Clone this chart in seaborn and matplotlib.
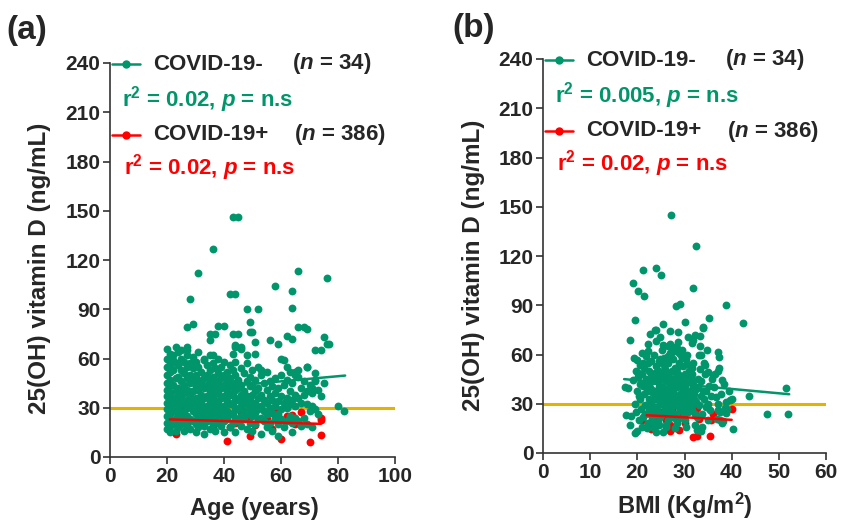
import matplotlib
matplotlib.use("Agg")
import matplotlib.pyplot as plt
import seaborn as sns
from matplotlib.lines import Line2D

# ---- panel (a): age vs 25(OH)D ----
neg_age = [
    43, 45, 36, 31, 28, 42, 44, 66, 76, 58, 64, 64, 48, 52,
    27, 29, 49, 38, 40, 35, 37, 35, 43, 45, 49, 50, 51, 56,
    59, 62, 64, 66, 68, 69, 75, 72, 74, 76, 77, 23, 27, 25,
    27, 43, 44, 46, 48, 51, 36, 60, 44, 46, 61, 69, 62, 63,
    66, 65, 72, 72, 71, 80, 82, 53, 65, 71, 69, 33, 22, 21,
    20, 20, 20, 20, 20, 20, 20, 20, 20, 20, 20, 20,
    21, 21, 21, 21, 21, 21, 21, 21, 21, 21, 21, 21,
    22, 22, 22, 22, 22, 22, 23, 23, 23, 23, 23, 23,
    24, 24, 24, 24, 24, 24, 24, 24, 24, 24,
    25, 25, 25, 25, 25, 25, 25, 25, 25,
    26, 26, 26, 26, 26, 26, 26, 26,
    27, 27, 27, 27, 27, 27, 27, 27,
    28, 28, 28, 28, 28, 28, 28,
    29, 29, 29, 29, 29, 29, 29,
    30, 30, 30, 30, 30, 30, 30, 30,
    31, 31, 31, 31, 31, 31, 31, 31,
    32, 32, 32, 32, 32, 32,
    33, 33, 33, 33, 33, 33, 33, 33,
    34, 34, 34, 34, 34, 34, 34,
    35, 35, 35, 35, 35, 35, 35, 35,
    36, 36, 36, 36, 36, 36, 36,
    37, 37, 37, 37, 37, 37, 37,
    38, 38, 38, 38, 38, 38, 38,
    39, 39, 39, 39, 39, 39, 39,
    40, 40, 40, 40, 40, 40, 40, 40,
    41, 41, 41, 41, 41, 41,
    42, 42, 42, 42, 42, 42, 42,
    43, 43, 43, 43, 43, 43,
    44, 44, 44, 44, 44, 44, 44,
    45, 45, 45, 45, 45,
    46, 46, 46, 46, 46, 46,
    47, 47, 47, 47, 47,
    48, 48, 48, 48, 48, 48,
    49, 49, 49, 49, 49,
    50, 50, 50, 50, 50, 50,
    51, 51, 51, 51, 51,
    52, 52, 52, 52, 52,
    53, 53, 53, 53, 53,
    54, 54, 54, 54,
    55, 55, 55, 55, 55,
    56, 56, 56, 56,
    57, 57, 57, 57,
    58, 58, 58, 58,
    59, 59, 59, 59, 59,
    60, 60, 60, 60,
    61, 61, 61,
    62, 62, 62, 62,
    63, 63, 63,
    64, 64, 64, 64,
    65, 65, 65,
    66, 66, 66,
    67, 67, 67,
    68, 68, 68,
    69, 69, 69,
    70, 70,
    71, 71, 71,
    72, 72,
    73, 73,
    74,
    75,
]
neg_vitd_a = [
    146, 146, 127, 112, 96, 99, 99, 113, 109, 104, 101, 91, 90, 90,
    79, 81, 82, 80, 80, 75, 75, 71, 75, 75, 76, 76, 70, 71,
    69, 74, 72, 79, 79, 78, 73, 65, 65, 69, 69, 67, 67, 65,
    65, 63, 67, 67, 62, 63, 62, 60, 68, 66, 59, 55, 55, 52,
    53, 50, 51, 46, 42, 31, 28, 53, 52, 40, 55, 60, 59, 55,
    66, 60, 55, 50, 45, 41, 37, 33, 29, 25, 21, 17,
    63, 58, 52, 47, 43, 39, 35, 31, 27, 23, 19, 15,
    62, 53, 44, 36, 28, 20, 57, 48, 40, 32, 24, 16,
    64, 56, 49, 42, 38, 34, 30, 26, 22, 18,
    60, 53, 46, 40, 36, 32, 28, 24, 20,
    58, 51, 44, 39, 33, 27, 21, 16,
    62, 55, 48, 41, 35, 30, 25, 19,
    57, 50, 45, 37, 31, 23, 17,
    61, 54, 46, 40, 34, 28, 22,
    58, 50, 43, 36, 32, 26, 20, 15,
    64, 55, 47, 41, 35, 29, 24, 18,
    52, 45, 38, 33, 27, 21,
    59, 48, 42, 36, 30, 25, 19, 14,
    56, 50, 44, 37, 31, 26, 22,
    62, 53, 46, 40, 34, 28, 23, 17,
    57, 49, 43, 38, 32, 27, 20,
    54, 47, 41, 35, 29, 24, 16,
    60, 51, 45, 39, 33, 26, 21,
    55, 48, 42, 36, 30, 25, 19,
    58, 50, 44, 37, 31, 27, 22, 15,
    52, 46, 40, 34, 28, 23,
    56, 48, 43, 38, 32, 26, 18,
    53, 45, 39, 33, 27, 21,
    58, 50, 41, 36, 30, 24, 15,
    47, 42, 35, 29, 22,
    54, 44, 38, 31, 25, 19,
    51, 40, 34, 28, 23,
    57, 46, 37, 32, 26, 17,
    49, 43, 35, 29, 21,
    53, 44, 38, 31, 25, 16,
    47, 40, 33, 27, 20,
    55, 42, 36, 29, 23,
    50, 38, 31, 24, 14,
    45, 35, 28, 22,
    52, 41, 33, 26, 18,
    46, 37, 30, 21,
    43, 35, 27, 16,
    48, 39, 31, 24,
    42, 34, 26, 20, 13,
    50, 37, 29, 23,
    44, 33, 18,
    47, 36, 30, 22,
    40, 32, 25,
    45, 35, 21, 15,
    38, 31, 24,
    49, 36, 22,
    42, 33, 19,
    46, 38, 24,
    40, 32, 20,
    44, 28,
    39, 31, 18,
    47, 29,
    41, 26,
    37,
    45,
]
pos_age = [23, 41, 49, 40, 46, 36, 42, 21, 21, 60, 70, 74, 74, 74, 64, 58,
           51, 62, 67, 40, 26, 32, 30, 44, 55, 33, 27, 48, 57, 65, 38]
pos_vitd_a = [14, 10, 13, 28.6, 26.6, 18.4, 18.4, 26.6, 23, 11, 9.2, 13.3, 24, 22.4, 25.5, 27.6,
              19.4, 24.9, 27.6, 29, 29.6, 29.2, 22, 21, 23, 25, 20, 24, 17, 20, 26]

# ---- panel (b): BMI vs 25(OH)D ----
neg_bmi = [
    27.1, 32.4, 21.3, 24.0, 25.0, 19.0, 20.2, 21.4, 31.9, 28.3, 29.0, 38.9, 19.6, 35.1,
    42.3, 25.5, 24.0, 22.7, 30.1, 26.9, 28.7, 18.4, 22.3, 24.0, 25.4, 30.8, 32.2, 31.5,
    33.3, 33.1, 37.2, 37.4, 26.9, 27.6, 27.3, 29.0, 23.7, 24.8, 31.9, 33.3, 34.0, 28.7,
    29.4, 33.6, 34.7, 33.9, 34.3, 35.0, 36.1, 37.2, 37.9, 51.5, 43.7, 40.0, 47.4, 52.0,
    40.2, 37.2, 38.6, 38.9, 37.5, 38.2, 33.6, 39.6, 20.2, 20.6, 19.9, 17.4, 18.1, 19.1,
    17.7, 18.4, 19.9, 18.6, 19.6,
    19.2, 19.8, 20.1, 20.4, 19.5, 20.8, 20.3, 21.0, 19.7, 20.6, 21.2, 20.9,
    21.5, 21.8, 22.1, 22.4, 21.6, 22.7, 22.2, 21.9, 22.9, 22.5, 23.0, 21.4, 22.6, 23.2, 22.3, 23.4, 22.8,
    23.6, 23.9, 24.2, 24.5, 23.7, 24.8, 24.1, 24.4, 23.5, 24.9, 24.6, 24.3, 25.0, 23.8, 24.7, 25.2, 25.4, 24.0, 25.3, 25.1, 24.5,
    25.6, 25.9, 26.2, 26.5, 25.7, 26.8, 26.1, 26.4, 25.5, 26.9, 26.6, 26.3, 27.0, 25.8, 26.7, 27.2, 27.4, 26.0, 27.3, 27.1, 26.5,
    27.6, 27.9, 28.2, 28.5, 27.7, 28.8, 28.1, 28.4, 27.5, 28.9, 28.6, 28.3, 29.0, 27.8, 28.7, 29.2, 29.4, 28.0, 29.3, 29.1, 28.5,
    29.6, 29.9, 30.2, 30.5, 29.7, 30.8, 30.1, 30.4, 29.5, 30.9, 30.6, 30.3, 31.0, 29.8, 30.7, 31.2,
    31.5, 31.8, 32.1, 32.4, 31.6, 32.7, 32.2, 31.9, 32.9, 32.5, 33.0, 31.4, 32.6, 33.2,
    33.5, 33.9, 34.2, 34.6, 33.7, 34.9, 34.4, 35.2, 35.6, 35.0, 33.8, 35.5, 34.1, 35.8,
    36.2, 36.6, 37.0, 37.5, 36.4, 37.8, 38.3, 38.7, 39.1, 36.9, 39.5, 38.0, 37.3,
    22.0, 23.1, 24.2, 25.3, 26.4, 27.5, 28.6, 29.7, 30.8, 31.9, 22.6, 23.7, 24.8, 25.9, 27.0, 28.1, 29.2, 30.3, 31.4, 26.2,
    20.5, 21.3, 22.4, 23.3, 24.6, 25.7, 26.6, 27.7, 28.4, 29.5, 30.6, 31.3, 32.8, 21.7, 23.9, 25.1, 26.8, 28.2, 30.0, 31.7,
    20.0, 21.1, 22.5, 23.5, 24.3, 25.5, 26.3, 27.4, 28.8, 29.9, 31.1, 32.3, 33.4, 22.0, 24.0, 26.0, 28.3, 30.4, 32.0, 34.5,
    21.0, 22.2, 23.0, 24.7, 25.8, 27.1, 28.0, 29.0, 30.5, 31.6, 23.4, 25.2, 26.7, 27.8, 29.6, 24.5, 26.1, 28.9, 30.2, 21.8,
]
neg_vitd_b = [
    145, 126, 111.5, 112.7, 108.5, 103.6, 98.5, 95.5, 100.4, 89.3, 90.5, 90.3, 81, 82.2,
    79, 78.4, 75.2, 72.7, 79.8, 74.3, 73.7, 69.1, 66.7, 68.2, 65.6, 70.7, 71.7, 67,
    65.2, 59.6, 61.6, 58.2, 66.7, 64.6, 61.6, 61.6, 75.2, 70.7, 68.7, 71.1, 76.7, 67.6,
    62.6, 59.6, 62.6, 76.4, 53.5, 49.5, 47.5, 50.1, 44.4, 39.4, 34.9, 32.7, 23.8, 23.8,
    14.5, 26.2, 27.3, 24.2, 20.2, 19.2, 13.1, 32.3, 48.5, 53.5, 56.5, 40.4, 39.4, 44.4,
    23.2, 17.2, 13.1, 22.6, 12.3,
    58, 50, 46, 35, 30, 27, 20, 16, 25, 42, 55, 61,
    52, 45, 38, 33, 29, 24, 18, 59, 48, 41, 56, 36, 27, 21, 62, 44, 31,
    60, 53, 47, 40, 35, 30, 26, 19, 15, 57, 50, 43, 37, 28, 22, 63, 54, 33, 46, 24, 17,
    58, 51, 44, 39, 34, 29, 25, 20, 13, 61, 55, 48, 42, 36, 31, 27, 22, 17, 50, 35, 65,
    57, 52, 46, 40, 33, 28, 24, 18, 38, 55, 48, 43, 36, 30, 21, 60, 45, 15, 32, 26, 64,
    53, 47, 41, 36, 30, 25, 20, 16, 40, 50, 44, 57, 33, 23, 28, 38,
    48, 42, 36, 31, 26, 22, 17, 55, 45, 39, 29, 34, 14, 51,
    44, 38, 33, 28, 24, 20, 48, 41, 35, 30, 16, 26, 55, 45,
    40, 34, 30, 25, 48, 36, 42, 31, 27, 21, 38, 18, 52,
    41, 37, 44, 31, 47, 43, 34, 39, 45, 40, 28, 49, 35, 45, 29, 50, 42, 27, 44, 38,
    33, 41, 50, 45, 56, 48, 59, 45, 52, 58, 54, 46, 40, 24, 38, 30, 46, 35, 48, 30,
    38, 22, 26, 23, 35, 40, 33, 40, 33, 44, 27, 24, 35, 15, 13, 16, 21, 31, 33, 38,
    48, 55, 39, 33, 27, 45, 51, 29, 60, 52, 19, 30, 24, 62, 34, 36, 56, 61, 35, 42,
]
pos_bmi = [22.8, 26.9, 28.9, 31.7, 32.6, 35.4, 23.0, 27.3, 32.6, 32.2, 40.1, 35.6,
           32.4, 24.0, 26.0, 28.0, 30.0, 25.0, 33.0, 29.0, 21.0, 36.0, 27.0, 33.0]
pos_vitd_b = [14.5, 13.7, 14.1, 9.7, 10.5, 10.5, 27.3, 26.2, 27.3, 24.2, 26.7, 19.8,
              28.7, 22, 20, 23, 18, 25, 21, 22, 20, 24, 17, 14]

# fitted regression lines
fit_age_neg, fit_vitd_neg_a = [20, 82.5], [39.8, 49.6]
fit_age_pos, fit_vitd_pos_a = [21, 74], [22.9, 20.2]
fit_bmi_neg, fit_vitd_neg_b = [17.2, 52.2], [45, 35.8]
fit_bmi_pos, fit_vitd_pos_b = [22, 40], [23, 20.2]
cutoff = 30

assert len(neg_age) == len(neg_vitd_a)
assert len(neg_bmi) == len(neg_vitd_b)
assert len(pos_age) == len(pos_vitd_a)
assert len(pos_bmi) == len(pos_vitd_b)

GREEN = "#00956A"
RED = "#FF0000"
YELLOW = "#E2B400"

sns.set_style("ticks")
plt.rcParams["font.family"] = ["Liberation Sans", "DejaVu Sans"]
plt.rcParams["font.weight"] = "bold"
plt.rcParams["mathtext.fontset"] = "custom"
plt.rcParams["mathtext.rm"] = "Liberation Sans:bold"
plt.rcParams["mathtext.it"] = "Liberation Sans:italic:bold"
plt.rcParams["mathtext.bf"] = "Liberation Sans:bold"

W, H = 841, 527
fig = plt.figure(figsize=(W / 100, H / 100), dpi=100)
ax_a = fig.add_axes([110 / W, 1 - 457 / H, 285 / W, 394 / H])
ax_b = fig.add_axes([543 / W, 1 - 453 / H, 283 / W, 394 / H])


def draw_panel(ax, xn, yn, xp, yp, fxn, fyn, fxp, fyp, xmax, xstep):
    ax.axhline(cutoff, color=YELLOW, lw=2.2, zorder=1)
    sns.scatterplot(x=xp, y=yp, color=RED, s=32, linewidth=0, ax=ax, zorder=2)
    sns.scatterplot(x=xn, y=yn, color=GREEN, s=32, linewidth=0, ax=ax, zorder=3)
    sns.lineplot(x=fxp, y=fyp, color=RED, lw=1.8, ax=ax, zorder=4)
    sns.lineplot(x=fxn, y=fyn, color=GREEN, lw=1.8, ax=ax, zorder=5)
    ax.set_xlim(0, xmax)
    ax.set_ylim(0, 240)
    ax.set_xticks(range(0, xmax + 1, xstep))
    ax.set_yticks(range(0, 241, 30))
    ax.set_xlabel("")
    ax.set_ylabel("")
    sns.despine(ax=ax)
    for s in ("left", "bottom"):
        ax.spines[s].set_linewidth(1.2)
        ax.spines[s].set_color("#333333")
    ax.tick_params(direction="out", length=5, width=1.2, color="#333333",
                   labelsize=15, pad=2)


draw_panel(ax_a, neg_age, neg_vitd_a, pos_age, pos_vitd_a,
           fit_age_neg, fit_vitd_neg_a, fit_age_pos, fit_vitd_pos_a, 100, 20)
draw_panel(ax_b, neg_bmi, neg_vitd_b, pos_bmi, pos_vitd_b,
           fit_bmi_neg, fit_vitd_neg_b, fit_bmi_pos, fit_vitd_pos_b, 60, 10)


def ftext(x, y, s, **kw):
    kw.setdefault("fontweight", "bold")
    fig.text(x / W, 1 - y / H, s, va="center", **kw)


def handle(x0, x1, y, color):
    yy = 1 - y / H
    fig.add_artist(Line2D([x0 / W, x1 / W], [yy, yy], color=color, lw=1.8,
                          transform=fig.transFigure))
    fig.add_artist(Line2D([(x0 + x1) / 2 / W], [yy], color=color, marker="o",
                          ms=5, transform=fig.transFigure))


# panel labels
ftext(6, 30, "(a)", fontsize=24)
ftext(452, 28, "(b)", fontsize=24)

# axis titles
ylab = "25(OH) vitamin D (ng/mL)"
ftext(40, 268, ylab, fontsize=17.5, rotation=90, ha="center")
ftext(474, 265, ylab, fontsize=17.5, rotation=90, ha="center")
ftext(254, 508, "Age (years)", fontsize=17, ha="center")
ftext(685, 506, r"BMI (Kg/m$^2$)", fontsize=17, ha="center")

# legend blocks
for x0, r2g, r2r in ((0, "0.02", "0.02"), (433, "0.005", "0.02")):
    y0 = 64 if x0 == 0 else 60
    handle(112 + x0, 140 + x0, y0, GREEN)
    ftext(153 + x0, y0, "COVID-19-", fontsize=16)
    ftext(292 + x0, y0, r"($\mathit{n}$ = 34)", fontsize=16)
    ftext(122 + x0, y0 + 36, r"r$^2$ = " + r2g + r", $\mathit{p}$ = n.s", fontsize=16, color=GREEN)
    handle(112 + x0, 140 + x0, y0 + 71, RED)
    ftext(153 + x0, y0 + 71, "COVID-19+", fontsize=16)
    ftext(294 + x0, y0 + 71, r"($\mathit{n}$ = 386)", fontsize=16)
    ftext(124 + x0, y0 + 104, r"r$^2$ = " + r2r + r", $\mathit{p}$ = n.s", fontsize=16, color=RED)

fig.savefig("out.png", dpi=100)
